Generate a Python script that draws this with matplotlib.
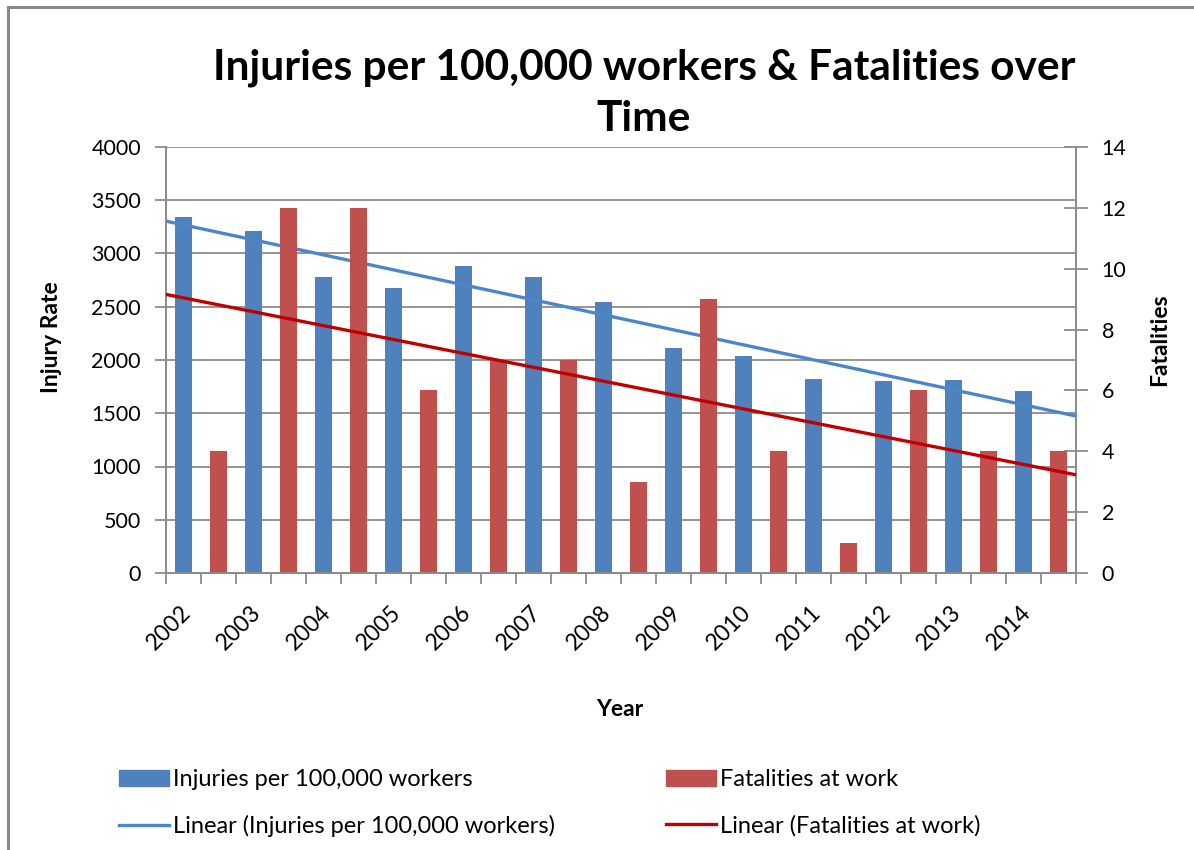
import numpy as np
import matplotlib.pyplot as plt
import matplotlib.transforms as mtransforms
from matplotlib.patches import Patch
from matplotlib.lines import Line2D

plt.rcParams["font.family"] = ["Lato", "DejaVu Sans"]

# Data
years = ["2002", "2003", "2004", "2005", "2006", "2007", "2008",
         "2009", "2010", "2011", "2012", "2013", "2014"]
injury_rate = [3343, 3211, 2779, 2676, 2883, 2779, 2545,
               2113, 2038, 1822, 1803, 1812, 1709]
fatalities = [4, 12, 12, 6, 7, 7, 3, 9, 4, 1, 6, 4, 4]

blue = "#4F81BD"
red = "#C0504D"
blue_trend = "#4A86C8"
red_trend = "#C00000"
axis_grey = "#8C8C8C"

# each year gets two slots: injuries, then fatalities
n = len(years)
x_inj = np.arange(n) * 2
x_fat = np.arange(n) * 2 + 1
n_slots = 2 * n

W, H = 1194, 850
fig = plt.figure(figsize=(W / 100, H / 100), dpi=100)

# chart area border (top and left edges)
fig.add_artist(Line2D([8 / W, 1.0], [1 - 7 / H, 1 - 7 / H],
                      transform=fig.transFigure, color="#888888", lw=2.2))
fig.add_artist(Line2D([8 / W, 8 / W], [0.0, 1 - 7 / H],
                      transform=fig.transFigure, color="#888888", lw=2.2))

ax = fig.add_axes([166 / W, 1 - 573 / H, 910 / W, 426 / H])
ax2 = ax.twinx()

ax.bar(x_inj, injury_rate, width=0.49, color=blue, zorder=2)
ax2.bar(x_fat, fatalities, width=0.49, color=red, zorder=2)

# linear trendlines across the whole category axis
xs = np.array([-0.5, n_slots - 0.5])
p_inj = np.polyfit(x_inj, injury_rate, 1)
p_fat = np.polyfit(x_fat, fatalities, 1)
ax.plot(xs, np.polyval(p_inj, xs), color=blue_trend, lw=2.4, zorder=3)
ax2.plot(xs, np.polyval(p_fat, xs), color=red_trend, lw=2.4, zorder=3)

ax.set_xlim(-0.5, n_slots - 0.5)
ax.set_ylim(0, 4000)
ax2.set_ylim(0, 14)
ax.set_yticks(np.arange(0, 4001, 500))
ax2.set_yticks(np.arange(0, 15, 2))

ax.yaxis.grid(True, color=axis_grey, lw=1.3, zorder=0)
ax.set_axisbelow(True)

for a in (ax, ax2):
    a.spines["top"].set_visible(False)
    for s in ("left", "right", "bottom"):
        a.spines[s].set_color(axis_grey)
        a.spines[s].set_linewidth(1.3)

ax.set_xticks(x_inj)
ax.set_xticklabels(years, rotation=45, ha="right", va="center",
                   rotation_mode="anchor", fontsize=16.5)
ax.set_xticks(np.arange(-0.5, n_slots, 1), minor=True)
ax.tick_params(axis="x", which="major", length=0, pad=26)
ax.tick_params(axis="x", which="minor", length=8, width=1.3, color=axis_grey)
for lbl in ax.get_xticklabels():
    lbl.set_transform(lbl.get_transform() +
                      mtransforms.ScaledTranslation(0.04, 0, fig.dpi_scale_trans))

ax.tick_params(axis="y", length=8, width=1.3, color=axis_grey,
               labelsize=15.5, pad=10)
ax2.tick_params(axis="y", direction="inout", length=17, width=1.3,
                color=axis_grey, labelsize=15.5, pad=10)

# axis titles
fig.text(51 / W, 1 - 337 / H, "Injury Rate", fontsize=16.5,
         fontweight="bold", rotation=90, ha="center", va="center")
fig.text(1160 / W, 1 - 340 / H, "Fatalities", fontsize=16.5,
         fontweight="bold", rotation=90, ha="center", va="center")
fig.text(620 / W, 1 - 710 / H, "Year", fontsize=16.5, fontweight="bold",
         ha="center", va="center")

fig.text(644 / W, 1 - 93 / H,
         "Injuries per 100,000 workers & Fatalities over\nTime",
         fontsize=30.5, fontweight="bold", ha="center", va="center",
         linespacing=1.42)

# legend, two columns
leg_kw = dict(loc="upper left", frameon=False, fontsize=17,
              handlelength=2.12, handletextpad=0.15, labelspacing=1.05)
fig.legend(
    handles=[Patch(color=blue),
             Line2D([], [], color=blue_trend, lw=2.4)],
    labels=["Injuries per 100,000 workers",
            "Linear (Injuries per 100,000 workers)"],
    bbox_to_anchor=(98 / W, 1 - 748 / H), **leg_kw)
fig.legend(
    handles=[Patch(color=red),
             Line2D([], [], color=red_trend, lw=2.4)],
    labels=["Fatalities at work", "Linear (Fatalities at work)"],
    bbox_to_anchor=(645 / W, 1 - 748 / H), **leg_kw)

fig.savefig("out.png", dpi=100)
